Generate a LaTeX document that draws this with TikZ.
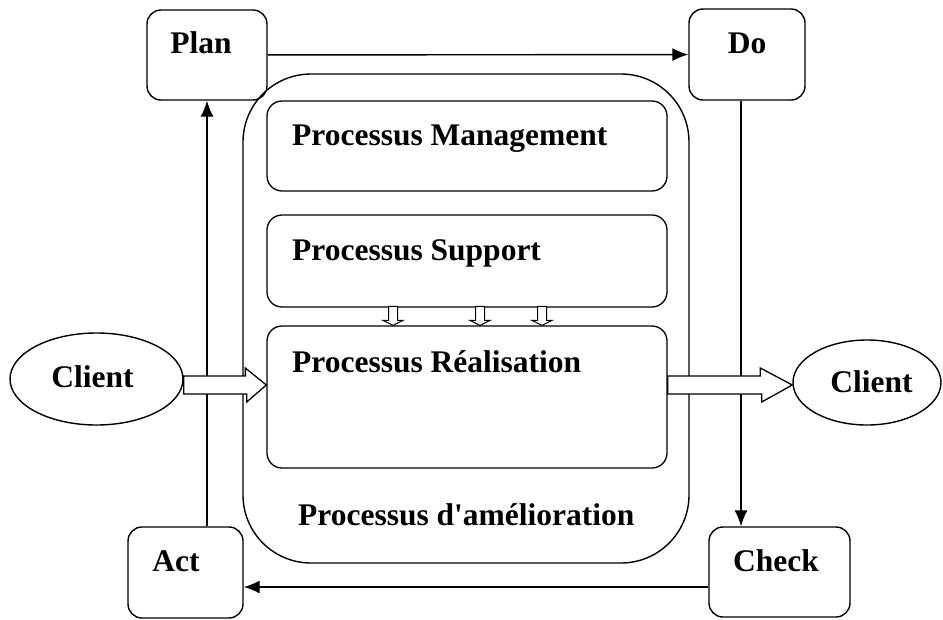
\documentclass[tikz,border=0pt]{standalone}
\usepackage{fontspec}
\setmainfont{Liberation Serif}
\usetikzlibrary{arrows.meta,shapes.geometric}
\begin{document}
\begin{tikzpicture}[x=1pt,y=-1pt,
  box/.style={draw,line width=1.4pt,rounded corners=14pt,inner sep=0pt},
  inbox/.style={draw,line width=1.3pt,rounded corners=15pt,inner sep=0pt},
  oval/.style={draw,ellipse,line width=1.4pt,inner sep=0pt},
  lbl/.style={inner sep=0pt,font=\bfseries\fontsize{31.5}{36}\selectfont},
  arr/.style={line width=1.4pt,-{Latex[length=16pt,width=13pt]}},
  ln/.style={line width=1.4pt},
  blk/.style={draw,fill=white,line width=1.3pt,line join=miter}]
\useasboundingbox (0,0) rectangle (943,619);
% improvement container
\node[draw,line width=1.4pt,rounded corners=68pt,minimum width=446,minimum height=489,inner sep=0pt] (big) at (466,318.5) {};
% inner process boxes
\node[inbox,minimum width=400,minimum height=90] (mgmt) at (467,146) {};
\node[inbox,minimum width=400,minimum height=92] (supp) at (467,261) {};
\node[inbox,minimum width=400,minimum height=142] (real) at (467,397) {};
% PDCA boxes
\node[box,minimum width=120,minimum height=90] (plan) at (207,55) {};
\node[box,minimum width=116,minimum height=91] (do) at (747,54.5) {};
\node[box,minimum width=115,minimum height=91] (act) at (185.5,572.5) {};
\node[box,minimum width=141,minimum height=90] (check) at (779.5,572) {};
% clients
\node[oval,minimum width=173,minimum height=92] (cl) at (96.5,379) {};
\node[oval,minimum width=148,minimum height=85] (cr) at (867,382.5) {};
% guide coordinates
\coordinate (lx) at (207,0);
\coordinate (rx) at (741,0);
\coordinate (by) at (0,587);
% PDCA connectors
\draw[arr] (plan) -- (do);
\draw[arr] (do.south -| rx) -- (check.north -| rx);
\draw[arr] (check.west |- by) -- (act.east |- by);
\draw[arr] (act.north -| lx) -- (plan.south -| lx);
% block arrows
\draw[blk] (real.west |- 0,385) -- ++(-21,-17) -- ++(0,8) -- (cl.east |- 0,376) -- ++(0,18) -- ++(63,0) -- ++(0,8) -- cycle;
\draw[blk] (cr.west |- 0,385) -- ++(-32,-17) -- ++(0,8) -- (real.east |- 0,376) -- ++(0,18) -- ++(94,0) -- ++(0,8) -- cycle;
\foreach \xx in {393,480,542}{
  \draw[blk,line width=1pt] (real.north -| \xx,0) -- ++(-10,-5) -- ++(5.5,0) -- ++(0,-14) -- ++(9,0) -- ++(0,14) -- ++(5.5,0) -- cycle;
}
% texts
\node[lbl,anchor=base] (tplan) at (201,53) {Plan};
\node[lbl,anchor=base] (tdo) at (747,53) {Do};
\node[lbl,anchor=base] (tact) at (176,571) {Act};
\node[lbl,anchor=base] (tcheck) at (776,571) {Check};
\node[lbl,anchor=base] (tcl) at (92.5,387) {Client};
\node[lbl,anchor=base] (tcr) at (871.5,392) {Client};
\node[lbl,anchor=base west] (tmgmt) at (292,145) {Processus Management};
\node[lbl,anchor=base west] (tsupp) at (292,260) {Processus Support};
\node[lbl,anchor=base west] (treal) at (292,372) {Processus Réalisation};
\node[lbl,anchor=base west] (tamel) at (298,525) {Processus d\textquotesingle amélioration};
\end{tikzpicture}
\end{document}
